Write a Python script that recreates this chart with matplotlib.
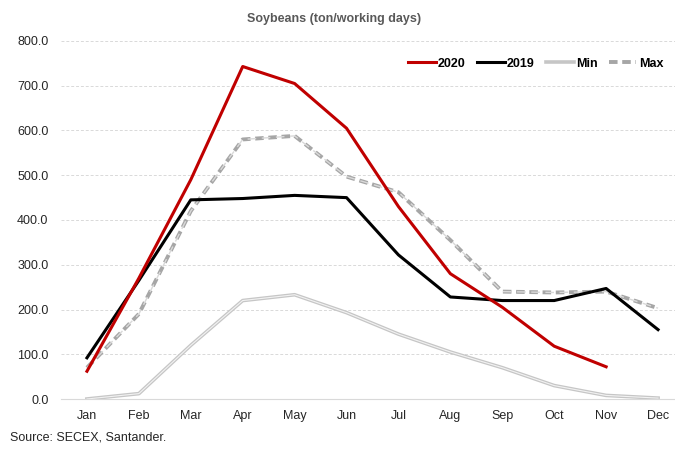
import numpy as np
import matplotlib.pyplot as plt
from matplotlib.ticker import FormatStrFormatter

plt.rcParams['font.family'] = ['Liberation Sans', 'DejaVu Sans']

months = ['Jan', 'Feb', 'Mar', 'Apr', 'May', 'Jun', 'Jul', 'Aug', 'Sep', 'Oct', 'Nov', 'Dec']
y2020 = [62, 270, 490, 743, 705, 605, 430, 280, 205, 118, 72]
y2019 = [92, 265, 445, 448, 455, 450, 322, 228, 220, 220, 247, 155]
ymin = [0, 12, 120, 220, 233, 193, 145, 105, 70, 30, 8, 2]
ymax = [70, 190, 420, 580, 588, 497, 462, 355, 240, 238, 240, 203]

fig = plt.figure(figsize=(6.75, 4.49), dpi=100)
ax = fig.add_axes([61 / 675, 50 / 449, 623 / 675, 358 / 449])

x = np.arange(len(months))

# Min: double line (grey outline, white center)
l_min, = ax.plot(x, ymin, color='#C6C6C6', lw=2.6, label='Min')
ax.plot(x, ymin, color='#F2F2F2', lw=0.8)

# Max: dashed double line
l_max, = ax.plot(x, ymax, color='#A6A6A6', lw=2.8, ls=(0, (2.2, 1.2)), label='Max')
ax.plot(x, ymax, color='#D9D9D9', lw=1.0, ls=(0, (6.2, 4.0)))

l19, = ax.plot(x, y2019, color='black', lw=2.2, label='2019')
l20, = ax.plot(x[:len(y2020)], y2020, color='#C00000', lw=2.2, label='2020')

ax.set_xlim(-0.5, 11.5)
ax.set_ylim(0, 800)
ax.set_yticks(np.arange(0, 801, 100))
ax.yaxis.set_major_formatter(FormatStrFormatter('%.1f'))
ax.set_xticks(x)
ax.set_xticklabels(months)
ax.tick_params(axis='both', length=0, labelsize=9, colors='#262626', pad=8)
ax.tick_params(axis='y', pad=9)
ax.grid(axis='y', color='#D9D9D9', ls=(0, (3, 2)), lw=0.7)
ax.set_axisbelow(True)
for s in ['top', 'right', 'left']:
    ax.spines[s].set_visible(False)
ax.spines['bottom'].set_color('#D9D9D9')

leg = ax.legend([l20, l19, l_min, l_max], ['2020', '2019', 'Min', 'Max'],
                loc='upper right', bbox_to_anchor=(0.985, 0.985), ncol=4, frameon=False,
                handlelength=2.2, handletextpad=0.2, columnspacing=0.9,
                prop={'weight': 'bold', 'size': 9})

fig.text(334 / 675, 1 - 19 / 449, 'Soybeans (ton/working days)', ha='center', va='center',
         fontsize=9, fontweight='bold', color='#595959')
fig.text(10 / 675, 1 - 438 / 449, 'Source: SECEX, Santander.', ha='left', va='center',
         fontsize=9, color='#262626')

fig.savefig('out.png', dpi=100)
